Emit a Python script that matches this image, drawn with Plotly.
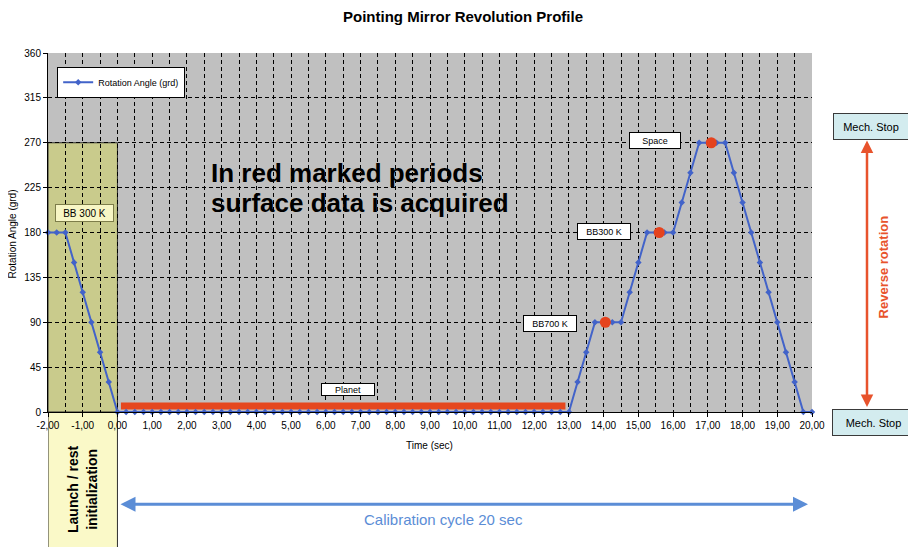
import plotly.graph_objects as go

# ---------------- data ----------------
time_s = [
    -2.00, -1.75, -1.50, -1.25, -1.00, -0.75, -0.50, -0.25,
    0.00, 0.25, 0.50, 0.75, 1.00, 1.25, 1.50, 1.75, 2.00, 2.25, 2.50, 2.75,
    3.00, 3.25, 3.50, 3.75, 4.00, 4.25, 4.50, 4.75, 5.00, 5.25, 5.50, 5.75,
    6.00, 6.25, 6.50, 6.75, 7.00, 7.25, 7.50, 7.75, 8.00, 8.25, 8.50, 8.75,
    9.00, 9.25, 9.50, 9.75, 10.00, 10.25, 10.50, 10.75, 11.00, 11.25, 11.50, 11.75,
    12.00, 12.25, 12.50, 12.75, 13.00, 13.25, 13.50, 13.75, 14.00, 14.25, 14.50, 14.75,
    15.00, 15.25, 15.50, 15.75, 16.00, 16.25, 16.50, 16.75, 17.00, 17.25, 17.50, 17.75,
    18.00, 18.25, 18.50, 18.75, 19.00, 19.25, 19.50, 19.75, 20.00,
]
angle_grd = [
    180, 180, 180, 150, 120, 90, 60, 30,
    0, 0, 0, 0, 0, 0, 0, 0, 0, 0, 0, 0,
    0, 0, 0, 0, 0, 0, 0, 0, 0, 0, 0, 0,
    0, 0, 0, 0, 0, 0, 0, 0, 0, 0, 0, 0,
    0, 0, 0, 0, 0, 0, 0, 0, 0, 0, 0, 0,
    0, 0, 0, 0, 0, 30, 60, 90, 90, 90, 90, 120,
    150, 180, 180, 180, 180, 210, 240, 270, 270, 270, 270, 240,
    210, 180, 150, 120, 90, 60, 30, 0, 0,
]

acq_time = [14.05, 15.6, 17.1]
acq_angle = [90, 180, 270]

planet_time = [0.1, 12.9]
planet_angle = [6, 6]

x_tickvals = [-2, -1, 0, 1, 2, 3, 4, 5, 6, 7, 8, 9, 10, 11, 12, 13, 14, 15, 16, 17, 18, 19, 20]
x_ticktext = ["-2,00", "-1,00", "0,00", "1,00", "2,00", "3,00", "4,00", "5,00", "6,00",
              "7,00", "8,00", "9,00", "10,00", "11,00", "12,00", "13,00", "14,00",
              "15,00", "16,00", "17,00", "18,00", "19,00", "20,00"]
y_tickvals = [0, 45, 90, 135, 180, 225, 270, 315, 360]
y_ticktext = ["0", "45", "90", "135", "180", "225", "270", "315", "360"]

# ---------------- style ----------------
NARROW = "Liberation Sans Narrow, Arial Narrow, Liberation Sans, Arial, sans-serif"
SANS = "Liberation Sans, Arial, sans-serif"
BLUE = "#4263C9"
RED = "#E5431E"
GRID = dict(showgrid=True, gridcolor="#000000", gridwidth=1, griddash="4px,3px")

# plot area in page pixels: left 48, right 812, top 53, bottom 412.7
PL, PW, PB, PH = 48.0, 764.0, 412.7, 359.3


def px(xp):
    return (xp - PL) / PW


def py(yp):
    return (PB - yp) / PH


fig = go.Figure()

fig.add_trace(go.Scatter(
    x=planet_time, y=planet_angle, mode="lines",
    line=dict(color="#E5471F", width=7), showlegend=False, hoverinfo="skip",
))
fig.add_trace(go.Scatter(
    x=time_s, y=angle_grd, mode="lines+markers", name="Rotation Angle (grd)",
    line=dict(color=BLUE, width=2),
    marker=dict(symbol="diamond", size=5, color=BLUE),
    cliponaxis=False,
))
fig.add_trace(go.Scatter(
    x=acq_time, y=acq_angle, mode="markers",
    marker=dict(symbol="circle", size=11, color=RED), showlegend=False,
    cliponaxis=False,
))

shapes = [
    dict(type="rect", xref="x", yref="y", x0=-2, x1=0, y0=0, y1=270,
         fillcolor="#C9CB8C", line=dict(color="#2E2E2E", width=1), layer="below"),
    dict(type="rect", xref="x", yref="paper", x0=-2, x1=0, y0=-0.40, y1=0,
         fillcolor="#FAF9C8", line=dict(color="#2E2E2E", width=1), layer="below"),
]


def box(text, x, y, w, h, size=9, bg="white", border="#000000", xref="x", yref="y", font=NARROW, pad=1):
    return dict(text=text, x=x, y=y, xref=xref, yref=yref, showarrow=False,
                xanchor="center", yanchor="middle",
                font=dict(family=font, size=size, color="#000000"),
                bgcolor=bg, bordercolor=border, borderwidth=1, borderpad=pad,
                width=w, height=h, align="center", valign="middle")


def label(text, xp, yp, size, color="#000000", family=NARROW, angle=0, xanchor="center"):
    return dict(text=text, x=px(xp), y=py(yp), xref="paper", yref="paper", showarrow=False,
                xanchor=xanchor, yanchor="middle", textangle=angle, align="left",
                font=dict(family=family, size=size, color=color))


annotations = [
    label("<b>Pointing Mirror Revolution Profile</b>", 463, 17, 15),
    label("Time (sec)", 429, 446, 10),
    label("Rotation Angle (grd)", 12, 235, 10, angle=-90),
    label("<b>In red marked periods</b>", 209, 173, 26, family=SANS, xanchor="left"),
    label("<b>surface data is acquired</b>", 209, 204, 26, family=SANS, xanchor="left"),
    box("BB 300 K", -0.96, 200, 55, 14, size=10, bg="#F7F6C5", border="#7D7D4A"),
    box("BB700 K", 12.45, 89, 50, 13, size=9),
    box("BB300 K", 14.0, 181, 50, 13, size=9),
    box("Space", 15.47, 272, 48, 13, size=9),
    box("Planet", 6.63, 23, 50, 9, size=9),
    box("Mech. Stop", px(871), py(126.5), 72, 23, size=11,
        bg="#D3ECEF", border="#3A3A3A", xref="paper", yref="paper", font=SANS),
    box("Mech. Stop", px(873.5), py(423.5), 79, 23, size=11,
        bg="#D3ECEF", border="#3A3A3A", xref="paper", yref="paper", font=SANS),
    dict(x=px(867), y=py(141), xref="paper", yref="paper",
         ax=0, ay=268, axref="pixel", ayref="pixel", showarrow=True, arrowhead=2,
         arrowside="end+start", arrowsize=1, arrowwidth=2.5, arrowcolor="#E8532C",
         standoff=0, startstandoff=0, text=""),
    label("<b>Reverse rotation</b>", 883, 268, 13, color="#E8532C", family=SANS, angle=-90),
    dict(x=px(808), y=py(505), xref="paper", yref="paper",
         ax=-(808 - 119), ay=0, axref="pixel", ayref="pixel", showarrow=True, arrowhead=2,
         arrowside="end+start", arrowsize=1, arrowwidth=3, arrowcolor="#5B8DD6",
         standoff=0, startstandoff=0, text=""),
    label("Calibration cycle 20 sec", 443, 520, 15, color="#5B8DD6"),
    dict(text="<b>Launch / rest<br>initialization</b>", x=-1, y=py(490),
         xref="x", yref="paper", showarrow=False, textangle=-90,
         xanchor="center", yanchor="middle",
         font=dict(family=SANS, size=14, color="#000000")),
]

# the page body adds an 8px offset, so the figure is 8px smaller and margins shifted
fig.update_layout(
    width=908, height=539,
    margin=dict(l=40, r=104, t=45, b=135, pad=0),
    paper_bgcolor="white", plot_bgcolor="#C0C0C0",
    shapes=shapes, annotations=annotations,
    showlegend=True,
    legend=dict(x=0.012, y=0.962, xanchor="left", yanchor="top",
                bgcolor="white", bordercolor="#000000", borderwidth=1,
                font=dict(family=NARROW, size=9, color="#000000"),
                itemwidth=30, tracegroupgap=0),
    xaxis=dict(range=[-2, 20], tickmode="array", tickvals=x_tickvals, ticktext=x_ticktext,
               ticks="outside", ticklen=4, tickcolor="#000000",
               showline=True, linecolor="#000000", linewidth=1, zeroline=False,
               tickfont=dict(family=NARROW, size=10, color="#000000"),
               minor=dict(dtick=0.5, tick0=0, **GRID),
               **GRID),
    yaxis=dict(range=[0, 360], tickmode="array", tickvals=y_tickvals, ticktext=y_ticktext,
               ticks="outside", ticklen=4, tickcolor="#000000",
               showline=True, linecolor="#000000", linewidth=1, zeroline=False,
               tickfont=dict(family=NARROW, size=10, color="#000000"),
               **GRID),
)

fig.write_html("out.html")
